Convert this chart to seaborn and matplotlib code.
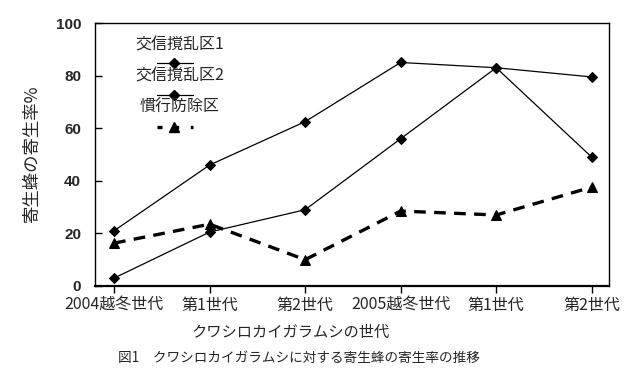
import matplotlib
matplotlib.use("Agg")
import matplotlib.pyplot as plt
import seaborn as sns
import numpy as np
import pandas as pd

# x-axis categories (generations of the scale insect)
generations = ["2004越冬世代", "第1世代", "第2世代", "2005越冬世代", "第1世代", "第2世代"]

# parasitism rate (%)
koushin_1 = [21, 46, 62.5, 85, 83, 79.5]
koushin_2 = [3, 20.5, 29, 56, 83, 49]
kankou = [16.3, 23.5, 10, 28.5, 27, 37.6]

series_names = ["交信撹乱区1", "交信撹乱区2", "慣行防除区"]

sns.set_theme(style="white")
plt.rcParams["font.family"] = ["Noto Sans CJK JP", "DejaVu Sans"]

fig = plt.figure(figsize=(6.43, 3.77), dpi=100)
ax = fig.add_axes([0.1477, 0.2414, 0.7993, 0.6975])

x = np.arange(len(generations))
df = pd.DataFrame({"x": x, "s1": koushin_1, "s2": koushin_2, "s3": kankou})

sns.lineplot(data=df, x="x", y="s1", ax=ax, color="black", linewidth=0.9,
             marker="D", markersize=5.5, markeredgecolor="black")
sns.lineplot(data=df, x="x", y="s2", ax=ax, color="black", linewidth=0.9,
             marker="D", markersize=5.5, markeredgecolor="black")
sns.lineplot(data=df, x="x", y="s3", ax=ax, color="black", linewidth=2.4,
             linestyle=(0, (3.5, 2.5)), marker="^", markersize=7, markeredgecolor="black")

ax.set_xlim(-0.2, 5.18)
ax.set_ylim(0, 100)
ax.set_yticks([0, 20, 40, 60, 80, 100])
ax.set_xticks(x)
ax.set_xticklabels(generations, fontsize=11.5)
for lab in ax.get_yticklabels():
    lab.set_fontfamily("Liberation Sans")
    lab.set_fontweight("bold")
    lab.set_fontsize(11)

for side in ["left", "right", "top", "bottom"]:
    ax.spines[side].set_visible(True)
    ax.spines[side].set_color("black")
    ax.spines[side].set_linewidth(1.0)
ax.spines["bottom"].set_linewidth(1.6)
ax.tick_params(axis="x", direction="out", length=5, width=1, color="black", bottom=True, pad=3)
ax.tick_params(axis="y", direction="in", length=5, width=1, color="black", left=True, pad=10)
ax.grid(False)

ax.set_xlabel("クワシロカイガラムシの世代", fontsize=11)
ax.xaxis.set_label_coords(0.38, -0.145)
ax.set_ylabel("寄生蜂の寄生率%", fontsize=12.5)
ax.yaxis.set_label_coords(-0.105, 0.5)

# custom legend: label above its line sample
legend_rows = [
    (series_names[0], 0.918, 0.848, "-", "D", 0.9, 5.5),
    (series_names[1], 0.798, 0.725, "-", "D", 0.9, 5.5),
    (series_names[2], 0.678, 0.603, (0, (1.5, 3.5)), "^", 2.4, 7),
]
for name, ty, ly, ls, mk, lw, ms in legend_rows:
    ax.text(0.165, ty, name, transform=ax.transAxes, ha="center", va="center", fontsize=11.5)
    ax.plot([0.12, 0.19], [ly, ly], transform=ax.transAxes, color="black",
            linewidth=lw, linestyle=ls, clip_on=False)
    ax.plot([0.154], [ly], transform=ax.transAxes, color="black", marker=mk,
            markersize=ms, linestyle="none")

fig.text(0.465, 0.05, "図1　クワシロカイガラムシに対する寄生蜂の寄生率の推移",
         ha="center", va="center", fontsize=9.8)

fig.savefig("out.png", dpi=100, facecolor="white")
